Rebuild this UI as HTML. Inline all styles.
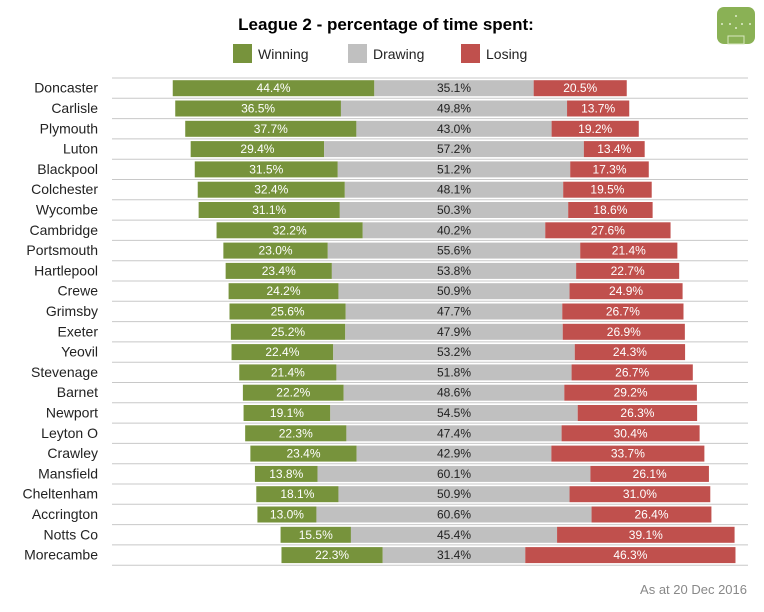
<!DOCTYPE html>
<html><head><meta charset="utf-8"><style>
body{margin:0;background:#fff;font-family:"Liberation Sans",sans-serif;}
svg text{font-family:"Liberation Sans",sans-serif;}
</style></head><body>
<svg id="c" width="764" height="607">
<text x="386" y="30" text-anchor="middle" font-size="17" font-weight="bold" fill="#000">League 2 - percentage of time spent:</text>
<g>
<rect x="233" y="44" width="19" height="19" fill="#77933c"/>
<text x="258" y="59" font-size="14" fill="#222">Winning</text>
<rect x="348" y="44" width="19" height="19" fill="#c0c0c0"/>
<text x="373" y="59" font-size="14" fill="#222">Drawing</text>
<rect x="461" y="44" width="19" height="19" fill="#c0504d"/>
<text x="486" y="59" font-size="14" fill="#222">Losing</text>
</g>
<g>
<rect x="717" y="7" width="38" height="37" rx="7" fill="#8ab155"/>
<rect x="728" y="36" width="16" height="8" fill="none" stroke="#d8e8c0" stroke-width="1"/>
<circle cx="736" cy="16" r="1" fill="#e0eccc"/><circle cx="730" cy="24" r="1" fill="#e0eccc"/><circle cx="742" cy="24" r="1" fill="#e0eccc"/><circle cx="736" cy="28" r="1" fill="#e0eccc"/><circle cx="722" cy="24" r="1" fill="#e0eccc"/><circle cx="750" cy="24" r="1" fill="#e0eccc"/>
</g>
<g id="plot"></g>
<text x="747" y="594" text-anchor="end" font-size="13" fill="#888">As at 20 Dec 2016</text>
</svg>
<script>
const teams=["Doncaster","Carlisle","Plymouth","Luton","Blackpool","Colchester","Wycombe","Cambridge","Portsmouth","Hartlepool","Crewe","Grimsby","Exeter","Yeovil","Stevenage","Barnet","Newport","Leyton O","Crawley","Mansfield","Cheltenham","Accrington","Notts Co","Morecambe"];
const winning=[44.4,36.5,37.7,29.4,31.5,32.4,31.1,32.2,23.0,23.4,24.2,25.6,25.2,22.4,21.4,22.2,19.1,22.3,23.4,13.8,18.1,13.0,15.5,22.3];
const drawing=[35.1,49.8,43.0,57.2,51.2,48.1,50.3,40.2,55.6,53.8,50.9,47.7,47.9,53.2,51.8,48.6,54.5,47.4,42.9,60.1,50.9,60.6,45.4,31.4];
const losing=[20.5,13.7,19.2,13.4,17.3,19.5,18.6,27.6,21.4,22.7,24.9,26.7,26.9,24.3,26.7,29.2,26.3,30.4,33.7,26.1,31.0,26.4,39.1,46.3];
const NS="http://www.w3.org/2000/svg";
const g=document.getElementById('plot');
const pxPer=4.54, center=454, top0=78, step=20.3, barH=16;
function xs(v){return v*pxPer;}
function mk(tag,attrs){const e=document.createElementNS(NS,tag);for(const k in attrs)e.setAttribute(k,attrs[k]);g.appendChild(e);return e;}
for(let i=0;i<=teams.length;i++){
  const l=mk('line',{x1:112,x2:748,y1:top0+i*step,y2:top0+i*step,stroke:'#c8c8c8','stroke-width':1});
  
  
}
teams.forEach((t,i)=>{
  const y=top0+i*step+2.2;
  const cy=y+barH/2+4.5;
  const lab=mk('text',{x:98,y:cy,'text-anchor':'end','font-size':14,fill:'#222'});
  lab.textContent=t;
  
  
  const dx=center-xs(drawing[i])/2;
  const wx=dx-xs(winning[i]);
  const lx=dx+xs(drawing[i]);
  const segs=[[wx,winning[i],'#77933c','#fff','bar-winning'],[dx,drawing[i],'#c0c0c0','#222','bar-drawing'],[lx,losing[i],'#c0504d','#fff','bar-losing']];
  segs.forEach(s=>{
    const r=mk('rect',{x:s[0],y:y,width:xs(s[1]),height:barH,fill:s[2]});
    
    
    const tx=mk('text',{x:s[0]+xs(s[1])/2,y:cy-0.5,'text-anchor':'middle','font-size':12,fill:s[3]});
    tx.textContent=s[1].toFixed(1)+'%';
    
    
  });
});
</script>
</body></html>
